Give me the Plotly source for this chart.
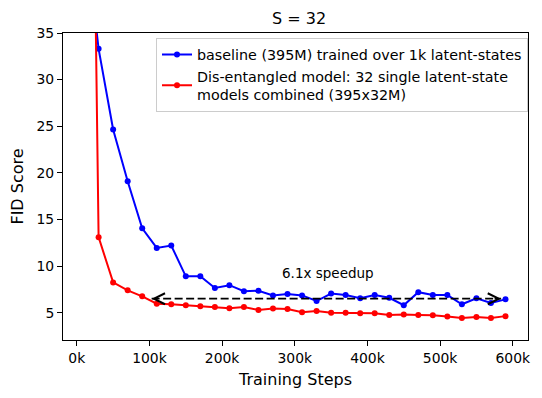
import plotly.graph_objects as go

steps = [10000, 30000, 50000, 70000, 90000, 110000, 130000, 150000, 170000, 190000,
         210000, 230000, 250000, 270000, 290000, 310000, 330000, 350000, 370000,
         390000, 410000, 430000, 450000, 470000, 490000, 510000, 530000, 550000,
         570000, 590000]

baseline_fid = [47.0, 33.3, 24.65, 19.1, 14.05, 11.95, 12.2, 8.9, 8.9, 7.65,
                7.95, 7.3, 7.35, 6.85, 7.0, 6.85, 6.25, 7.05, 6.9, 6.55,
                6.9, 6.6, 5.8, 7.2, 6.9, 6.9, 5.9, 6.55, 6.05, 6.43]

disentangled_fid = [130.0, 13.1, 8.25, 7.4, 6.75, 5.97, 5.9, 5.8, 5.68, 5.6,
                    5.47, 5.6, 5.3, 5.45, 5.4, 5.05, 5.18, 5.0, 5.0, 4.93,
                    4.93, 4.74, 4.8, 4.75, 4.72, 4.6, 4.43, 4.54, 4.43, 4.63]

x_tick_vals = [0, 100000, 200000, 300000, 400000, 500000, 600000]
x_tick_text = ["0k", "100k", "200k", "300k", "400k", "500k", "600k"]
y_tick_vals = [5, 10, 15, 20, 25, 30, 35]

speedup_from = 103000
speedup_to = 584000
speedup_level = 6.5
speedup_label = "6.1x speedup"
label_x = 280000
label_y = 9.25

FONT = "DejaVu Sans"

# the page body adds an 8px offset, so the figure is 8px smaller
W, H = 534, 390

fig = go.Figure()
fig.add_trace(go.Scatter(
    x=steps, y=baseline_fid, mode="lines+markers",
    name="baseline (395M) trained over 1k latent-states",
    line=dict(color="#0000ff", width=2), marker=dict(color="#0000ff", size=6),
))
fig.add_trace(go.Scatter(
    x=steps, y=disentangled_fid, mode="lines+markers",
    name="Dis-entangled model: 32 single latent-state<br>models combined (395x32M)",
    line=dict(color="#ff0000", width=2), marker=dict(color="#ff0000", size=6),
))

# dashed speedup line
fig.add_shape(type="line", x0=speedup_from, x1=speedup_to, y0=speedup_level, y1=speedup_level,
              xref="x", yref="y", line=dict(color="black", width=1.8, dash="8px,3.5px"))
# arrowheads
for xh, off in [(speedup_from, 8), (speedup_to, -8)]:
    fig.add_annotation(x=xh, y=speedup_level, xref="x", yref="y", ax=off, ay=0,
                       axref="pixel", ayref="pixel", showarrow=True, arrowhead=5,
                       arrowsize=1.8, arrowwidth=1.2, arrowcolor="black", text="", standoff=0)
fig.add_annotation(x=label_x, y=label_y, xref="x", yref="y", text=speedup_label,
                   showarrow=False, xanchor="left", yanchor="middle",
                   font=dict(family=FONT, size=13.5, color="black"))

fig.update_layout(
    width=W, height=H,
    margin=dict(l=55, r=14, t=25, b=58, autoexpand=False),
    paper_bgcolor="white", plot_bgcolor="white",
    font=dict(family=FONT, size=13.5, color="black"),
    title=dict(text="S = 32", x=0.545, xanchor="center", y=1 - 10 / H, yanchor="middle",
               font=dict(family=FONT, size=16, color="black")),
    showlegend=True,
    legend=dict(x=0.2, y=0.985, xanchor="left", yanchor="top",
                bgcolor="rgba(255,255,255,0.8)", bordercolor="#cccccc", borderwidth=1,
                font=dict(family=FONT, size=14.3, color="black"),
                tracegroupgap=0, itemwidth=30),
    xaxis=dict(range=[-19000, 621000], tickvals=x_tick_vals, ticktext=x_tick_text,
               showgrid=False, zeroline=False, showline=True, mirror=True, automargin=False,
               linecolor="black", linewidth=1, ticks="outside", ticklen=5,
               tickcolor="black", tickfont=dict(family=FONT, size=13.9),
               title=dict(text="Training Steps", font=dict(family=FONT, size=16), standoff=9)),
    yaxis=dict(range=[2.07, 35], tickvals=y_tick_vals,
               showgrid=False, zeroline=False, showline=True, mirror=True, automargin=False,
               linecolor="black", linewidth=1, ticks="outside", ticklen=5,
               tickcolor="black", tickfont=dict(family=FONT, size=13.9),
               title=dict(text="FID Score", font=dict(family=FONT, size=16), standoff=8)),
)

fig.write_html("out.html")
